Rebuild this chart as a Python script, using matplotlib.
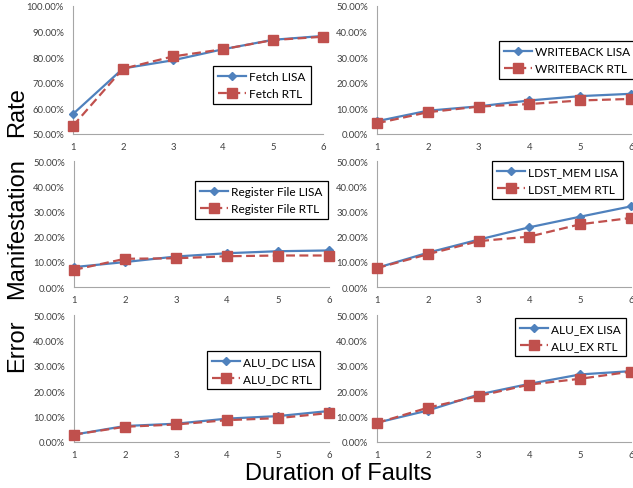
import matplotlib
matplotlib.use("Agg")
import matplotlib.pyplot as plt
import numpy as np
from matplotlib.ticker import PercentFormatter

# duration of faults (x axis)
durations = [1, 2, 3, 4, 5, 6]

# error manifestation rate
fetch_lisa = [0.578, 0.756, 0.788, 0.831, 0.868, 0.883]
fetch_rtl = [0.532, 0.755, 0.803, 0.831, 0.867, 0.880]
writeback_lisa = [0.050, 0.091, 0.108, 0.131, 0.148, 0.157]
writeback_rtl = [0.042, 0.085, 0.107, 0.117, 0.131, 0.137]
regfile_lisa = [0.079, 0.099, 0.121, 0.134, 0.142, 0.145]
regfile_rtl = [0.068, 0.112, 0.114, 0.122, 0.125, 0.125]
ldst_lisa = [0.076, 0.136, 0.188, 0.237, 0.279, 0.320]
ldst_rtl = [0.075, 0.130, 0.182, 0.200, 0.249, 0.274]
aludc_lisa = [0.029, 0.063, 0.072, 0.092, 0.102, 0.122]
aludc_rtl = [0.029, 0.060, 0.069, 0.086, 0.094, 0.114]
aluex_lisa = [0.076, 0.124, 0.187, 0.229, 0.266, 0.279]
aluex_rtl = [0.075, 0.135, 0.181, 0.226, 0.249, 0.277]

names = ["Fetch", "WRITEBACK", "Register File", "LDST_MEM", "ALU_DC", "ALU_EX"]
lisa = [fetch_lisa, writeback_lisa, regfile_lisa, ldst_lisa, aludc_lisa, aluex_lisa]
rtl = [fetch_rtl, writeback_rtl, regfile_rtl, ldst_rtl, aludc_rtl, aluex_rtl]
ylims = [(0.5, 1.0), (0.0, 0.5), (0.0, 0.5), (0.0, 0.5), (0.0, 0.5), (0.0, 0.5)]

W, H = 633, 489
# plot areas in pixels: x0, y0, x1, y1
boxes = [(73, 7, 323, 135), (377, 7, 631, 135),
         (74, 162, 329, 288), (377, 162, 631, 288),
         (74, 316, 329, 443), (377, 316, 631, 443)]
# top left corner of each legend, pixels
leg_pos = [(213, 67), (499, 42), (195, 182), (492, 162), (207, 352), (515, 319)]

BLUE = "#4F81BD"
RED = "#C0504D"
GRAY = "#404040"
tick_font = "Lato"
big_font = "Liberation Sans"

fig = plt.figure(figsize=(W / 100, H / 100), dpi=100)

for i in range(6):
    x0, y0, x1, y1 = boxes[i]
    ax = fig.add_axes([x0 / W, 1 - y1 / H, (x1 - x0) / W, (y1 - y0) / H])
    ax.set_facecolor("none")
    ax.plot(durations, lisa[i], color=BLUE, lw=1.6, marker="D", ms=4.2,
            label=names[i] + " LISA", clip_on=False, zorder=3)
    ax.plot(durations, rtl[i], color=RED, lw=1.6, ls=(0, (4, 2)), marker="s",
            ms=6.5, label=names[i] + " RTL", clip_on=False, zorder=4)
    lo, hi = ylims[i]
    ax.set_xlim(1, 6)
    ax.set_ylim(lo, hi)
    ax.set_xticks(durations)
    ax.set_yticks(np.linspace(lo, hi, 6))
    ax.yaxis.set_major_formatter(PercentFormatter(xmax=1, decimals=2))
    for s in ["top", "right"]:
        ax.spines[s].set_visible(False)
    for s in ["left", "bottom"]:
        ax.spines[s].set_color("#A6A6A6")
        ax.spines[s].set_linewidth(0.8)
    ax.tick_params(axis="both", length=0, labelsize=6.8, labelcolor=GRAY)
    ax.tick_params(axis="x", pad=6)
    ax.tick_params(axis="y", pad=6.5)
    for lab in ax.get_xticklabels() + ax.get_yticklabels():
        lab.set_fontfamily(tick_font)
    lx, ly = leg_pos[i]
    leg = ax.legend(loc="upper left", bbox_to_anchor=(lx / W, 1 - ly / H),
                    bbox_transform=fig.transFigure, borderaxespad=0,
                    fancybox=False, framealpha=1, edgecolor="black",
                    prop={"family": tick_font, "size": 8.6},
                    handlelength=2.4, handletextpad=0.25, labelspacing=0.55,
                    borderpad=0.4)
    leg.get_frame().set_linewidth(0.9)

fig.text(338 / W, 1 - 474 / H, "Duration of Faults", ha="center", va="center",
         fontsize=17, family=big_font)
fig.text(17 / W, 1 - 112 / H, "Rate", rotation=90, ha="center", va="center",
         fontsize=17, family=big_font)
fig.text(17 / W, 1 - 229 / H, "Manifestation", rotation=90, ha="center",
         va="center", fontsize=17, family=big_font)
fig.text(17 / W, 1 - 346 / H, "Error", rotation=90, ha="center", va="center",
         fontsize=17, family=big_font)

fig.savefig("out.png", dpi=100)
